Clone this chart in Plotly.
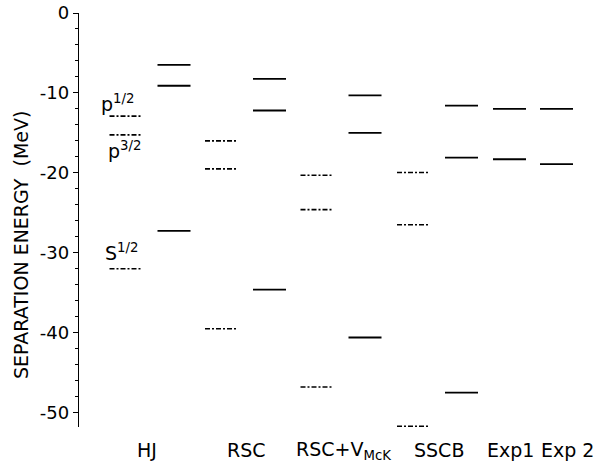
import plotly.graph_objects as go

# ---------------- data (MeV) ----------------
models = ["HJ", "RSC", "RSC+V<sub>McK</sub>", "SSCB", "Exp1", "Exp 2"]
state_labels = ["p<sup>1/2</sup>", "p<sup>3/2</sup>", "S<sup>1/2</sup>"]

hj_dashdot = [-12.9, -15.25, -32.0]
hj_solid = [-6.5, -9.1, -27.25]
rsc_dashdot = [-16.0, -19.5, -39.5]
rsc_solid = [-8.25, -12.2, -34.6]
rscv_dashdot = [-20.3, -24.6, -46.8]
rscv_solid = [-10.3, -15.0, -40.6]
sscb_dashdot = [-19.96, -26.5, -51.7]
sscb_solid = [-11.6, -18.1, -47.5]
exp1_solid = [-12.0, -18.3]
exp2_solid = [-12.0, -18.9]

y_tick_vals = [0, -10, -20, -30, -40, -50]
y_tick_text = ["0", "-10", "-20", "-30", "-40", "-50"]

dashdot_sets = [hj_dashdot, rsc_dashdot, rscv_dashdot, sscb_dashdot, None, None]
solid_sets = [hj_solid, rsc_solid, rscv_solid, sscb_solid, exp1_solid, exp2_solid]

# ---------------- layout positions (horizontal placement) ----------------
col_center = [150, 245.5, 341, 437.5, 509.5, 556.5]
label_x = [147, 246, 343, 439, 510, 567]
half_w = 16.5
pair_offset = 24

dd_x, dd_y, so_x, so_y = [], [], [], []
for i in range(len(models)):
    dd = dashdot_sets[i]
    so = solid_sets[i]
    if dd is not None:
        c_dd = col_center[i] - pair_offset
        c_so = col_center[i] + pair_offset
        for v in dd:
            dd_x += [c_dd - half_w, c_dd + half_w, None]
            dd_y += [v, v, None]
    else:
        c_so = col_center[i]
    for v in so:
        so_x += [c_so - half_w, c_so + half_w, None]
        so_y += [v, v, None]

fig = go.Figure()
fig.add_trace(go.Scatter(x=dd_x, y=dd_y, mode="lines", showlegend=False,
                         line=dict(color="black", width=1.6, dash="5px,2px,2px,2px"),
                         hoverinfo="skip"))
fig.add_trace(go.Scatter(x=so_x, y=so_y, mode="lines", showlegend=False,
                         line=dict(color="black", width=1.8),
                         hoverinfo="skip"))

annotations = []
# state labels next to HJ dash-dot levels
hj_dd_center = col_center[0] - pair_offset
shifts = [(-9, 13), (-2, -15), (-5, 17)]
for lab, v, (xs, ys) in zip(state_labels, hj_dashdot, shifts):
    annotations.append(dict(x=hj_dd_center, y=v, xref="x", yref="y", text=lab,
                            showarrow=False, xshift=xs, yshift=ys,
                            font=dict(family="DejaVu Sans", size=19, color="black")))
# model labels along bottom
for m, lx in zip(models, label_x):
    annotations.append(dict(x=lx, y=-0.056, xref="x", yref="paper", text=m,
                            showarrow=False, yanchor="middle",
                            font=dict(family="DejaVu Sans", size=19, color="black")))
# y axis title
annotations.append(dict(x=-0.112, y=0.44, xref="paper", yref="paper",
                        text="SEPARATION ENERGY  (MeV)", textangle=-90,
                        showarrow=False, xanchor="center", yanchor="middle",
                        font=dict(family="DejaVu Sans", size=19, color="black")))

fig.update_layout(
    width=595, height=465,
    margin=dict(l=79, r=0, t=13, b=38),
    paper_bgcolor="white", plot_bgcolor="white",
    annotations=annotations,
    xaxis=dict(range=[79, 595], visible=False, fixedrange=True),
    yaxis=dict(range=[-51.8, 0], tickvals=y_tick_vals, ticktext=y_tick_text,
               ticks="outside", ticklen=5, tickwidth=1.3, tickcolor="black",
               showline=True, linecolor="black", linewidth=1.3,
               showgrid=False, zeroline=False,
               tickfont=dict(family="DejaVu Sans", size=18, color="black"),
               minor=dict(dtick=2, ticks="outside", ticklen=3, tickcolor="black", tickwidth=1),
               fixedrange=True),
)

fig.write_html("out.html", config={"displayModeBar": False},
               post_script="document.body.style.margin='0';")
